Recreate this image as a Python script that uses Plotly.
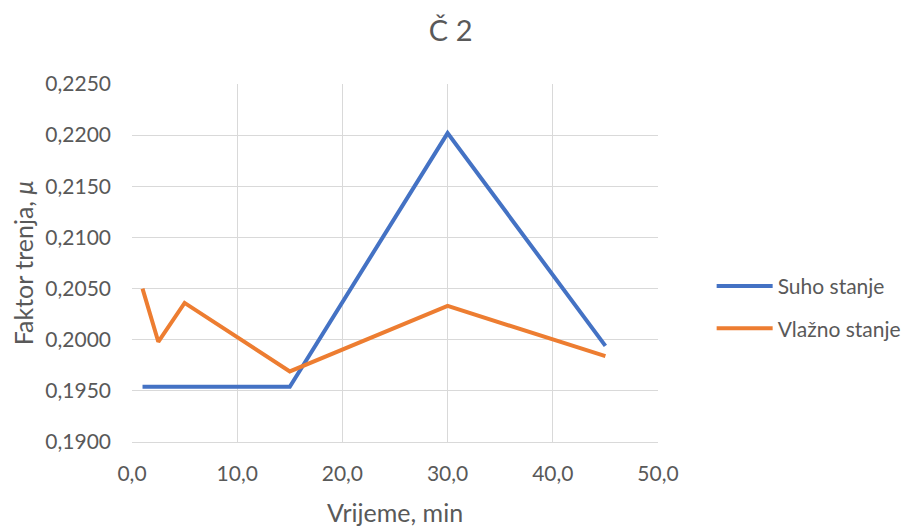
import plotly.graph_objects as go

time_min = [1.0, 2.5, 5.0, 15.0, 30.0, 45.0]
suho_time = [1.0, 15.0, 30.0, 45.0]
suho_stanje = [0.1954, 0.1954, 0.2202, 0.1994]
vlazno_stanje = [0.2050, 0.1998, 0.2036, 0.1969, 0.2033, 0.1984]

title_text = "Č 2"
x_title = "Vrijeme, min"
y_title = "Faktor trenja, <i>μ</i>"
series_names = ["Suho stanje", "Vlažno stanje"]

FONT = "Lato, Carlito, Calibri, sans-serif"
GRAY = "#595959"

fig = go.Figure()
fig.add_trace(go.Scatter(x=suho_time, y=suho_stanje, mode="lines", name=series_names[0],
                         line=dict(color="#4472C4", width=4), legendgroup="a"))
fig.add_trace(go.Scatter(x=time_min, y=vlazno_stanje, mode="lines", name=series_names[1],
                         line=dict(color="#ED7D31", width=4), legendgroup="b"))

fig.update_layout(
    width=909, height=528,
    margin=dict(l=124, r=259, t=76, b=94, autoexpand=False),
    paper_bgcolor="white", plot_bgcolor="white",
    separators=",.",
    font=dict(family=FONT, color=GRAY, size=21),
    title=dict(text=title_text, x=0.487, xanchor="center", y=0.957, yanchor="middle",
               font=dict(size=29, color=GRAY, family=FONT)),
    legend=dict(x=1.102, xanchor="left", y=0.376, yanchor="middle", xref="paper",
                font=dict(size=21, color=GRAY, family=FONT),
                traceorder="grouped", tracegroupgap=12, itemwidth=56,
                bgcolor="rgba(0,0,0,0)"),
    showlegend=True,
)
fig.update_xaxes(range=[0, 50], dtick=10, tick0=0, tickformat=".1f", automargin=False,
                 showgrid=True, gridcolor="#D9D9D9", gridwidth=1,
                 showline=True, linecolor="#D9D9D9", linewidth=1, mirror=False,
                 zeroline=False, ticks="", ticklabelstandoff=13,
                 title=dict(text=x_title, font=dict(size=25, color=GRAY, family=FONT), standoff=20),
                 tickfont=dict(size=21, color=GRAY, family=FONT))
fig.update_yaxes(range=[0.19, 0.225], dtick=0.005, tick0=0.19, tickformat=".4f", automargin=False,
                 showgrid=True, gridcolor="#D9D9D9", gridwidth=1,
                 showline=False, zeroline=False, ticks="", ticklabelstandoff=20,
                 title=dict(text=y_title, font=dict(size=25, color=GRAY, family=FONT), standoff=7),
                 tickfont=dict(size=21, color=GRAY, family=FONT))
fig.write_html("out.html")
